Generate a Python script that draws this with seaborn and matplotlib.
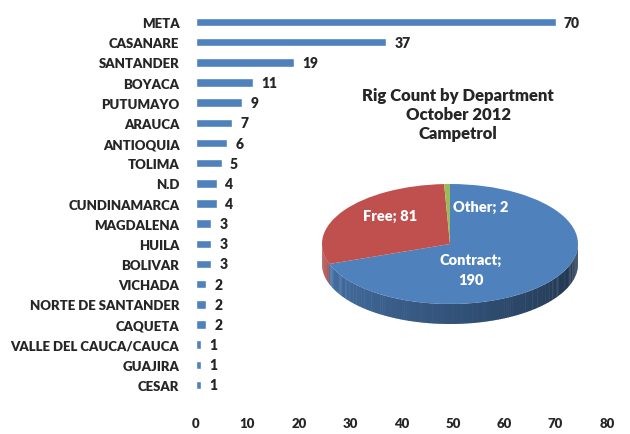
import numpy as np
import pandas as pd
import matplotlib
matplotlib.use("Agg")
import matplotlib.pyplot as plt
import matplotlib.colors as mcolors
import seaborn as sns

# datos: taladros por departamento, octubre 2012
departments = ["META", "CASANARE", "SANTANDER", "BOYACA", "PUTUMAYO", "ARAUCA",
               "ANTIOQUIA", "TOLIMA", "N.D", "CUNDINAMARCA", "MAGDALENA", "HUILA",
               "BOLIVAR", "VICHADA", "NORTE DE SANTANDER", "CAQUETA",
               "VALLE DEL CAUCA/CAUCA", "GUAJIRA", "CESAR"]
rigs = [70, 37, 19, 11, 9, 7, 6, 5, 4, 4, 3, 3, 3, 2, 2, 2, 1, 1, 1]
x_ticks = [0, 10, 20, 30, 40, 50, 60, 70, 80]

status_names = ["Contract", "Free", "Other"]
status_counts = [190, 81, 2]
status_colors = ["#4F81BD", "#C0504D", "#9BBB59"]

title_lines = ["Rig Count by Department", "October 2012", "Campetrol"]

df = pd.DataFrame({"Department": departments, "Rigs": rigs})

sns.set_style("white")
plt.rcParams["font.family"] = ["Lato", "DejaVu Sans"]
WEIGHT = "heavy"

W, H = 630, 435
fig = plt.figure(figsize=(W / 100, H / 100), dpi=100)

# ==============================
# barras horizontales
# ==============================
ax = fig.add_axes([196 / W, 1 - 396 / H, 411 / W, 383 / H])
sns.barplot(data=df, x="Rigs", y="Department", orient="h",
            color="#4F81BD", saturation=1, width=0.42, ax=ax)
ax.bar_label(ax.containers[0], padding=6, fontsize=10, fontweight=WEIGHT)
ax.set_xlim(0, 80)
ax.set_ylim(len(departments) - 0.5, -0.5)
ax.set_xticks(x_ticks)
ax.set_xlabel("")
ax.set_ylabel("")
ax.tick_params(axis="both", length=0, labelsize=9.5)
ax.tick_params(axis="y", pad=12)
ax.tick_params(axis="x", pad=16)
for lab in ax.get_xticklabels() + ax.get_yticklabels():
    lab.set_fontweight(WEIGHT)
sns.despine(ax=ax, left=True, bottom=True)

# ==============================
# torta "3D"
# ==============================
depth = 1 / 3
pax = fig.add_axes([(322 - 6) / W, 1 - (325 + 6) / H, (256 + 12) / W, (140 + 12) / H])
wedges, _ = pax.pie(status_counts, colors=status_colors, startangle=90,
                    counterclock=False, wedgeprops=dict(linewidth=0))
for w in wedges:
    w.set_zorder(3)
pax.set_aspect("auto")
pax.set_xlim(-1 - 6 / 128, 1 + 6 / 128)
pax.set_ylim(-1 - depth - 6 / 60, 1 + 6 / 60)

# pared lateral: solo la mitad frontal (180..360 grados)
fracs = np.cumsum([0] + status_counts) / sum(status_counts)
bounds = [(90 - 360 * fracs[i + 1], 90 - 360 * fracs[i]) for i in range(len(status_counts))]
step = 1.0
for th in np.arange(180, 360, step):
    mid = th + step / 2
    for i, (lo, hi) in enumerate(bounds):
        m = mid % 360
        if any(lo <= a <= hi for a in (m, m - 360)):
            base = np.array(mcolors.to_rgb(status_colors[i]))
            break
    t = (mid - 180) / 180
    shade = 0.92 - 0.55 * t
    col = np.clip(base * shade, 0, 1)
    a = np.radians([th, th + step + 0.3])
    xs = np.concatenate([np.cos(a), np.cos(a[::-1])])
    ys = np.concatenate([np.sin(a), np.sin(a[::-1]) - depth])
    pax.fill(xs, ys, color=col, linewidth=0, zorder=2)

pax.text(0.16, -0.42, f"{status_names[0]};\n{status_counts[0]}", color="white",
         fontsize=10.5, fontweight=WEIGHT, ha="center", va="center",
         linespacing=1.6, zorder=5)
pax.text(-0.47, 0.47, f"{status_names[1]}; {status_counts[1]}", color="white",
         fontsize=10.5, fontweight=WEIGHT, ha="center", va="center", zorder=5)
pax.text(0.24, 0.63, f"{status_names[2]}; {status_counts[2]}", color="white",
         fontsize=10.5, fontweight=WEIGHT, ha="center", va="center", zorder=5)

fig.text(458 / W, 1 - 115 / H, "\n".join(title_lines), ha="center", va="center",
         fontsize=12, fontweight=WEIGHT, linespacing=1.2)

fig.savefig("out.png", dpi=100)
